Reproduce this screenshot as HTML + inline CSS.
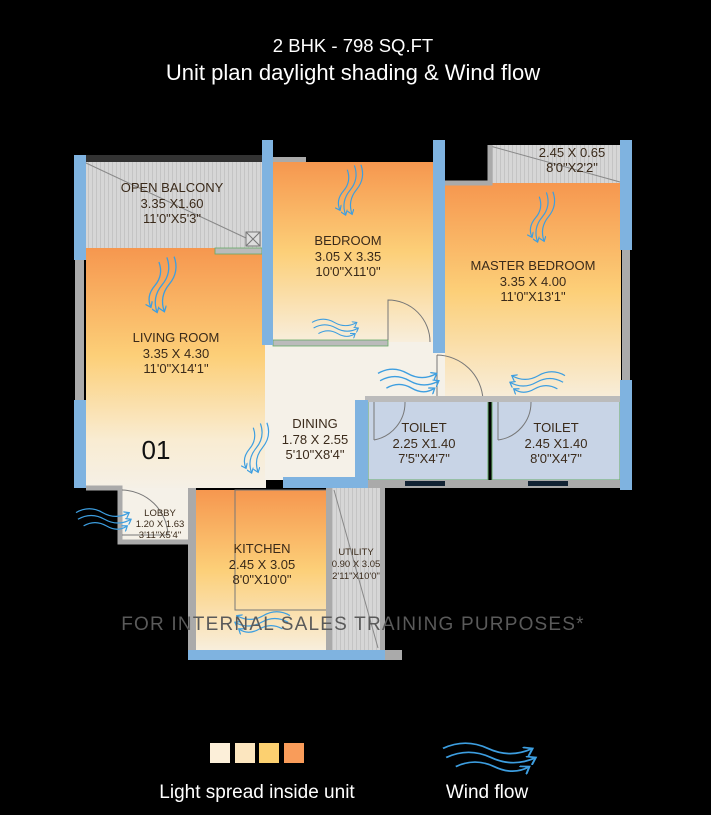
<!DOCTYPE html>
<html><head><meta charset="utf-8"><style>
html,body{margin:0;padding:0;background:#000;}
svg{display:block}
text{font-family:"Liberation Sans",sans-serif}
</style></head><body>
<svg width="711" height="815" viewBox="0 0 711 815" xmlns="http://www.w3.org/2000/svg">
<defs>
<linearGradient id="g1" x1="0" y1="0" x2="0" y2="1">
<stop offset="0" stop-color="#f6974f"/><stop offset="0.45" stop-color="#fccf78"/><stop offset="0.8" stop-color="#f9ecd2"/><stop offset="1" stop-color="#f5f0e6"/>
</linearGradient>
<linearGradient id="g2" x1="0" y1="0" x2="0" y2="1">
<stop offset="0" stop-color="#f6974f"/><stop offset="0.5" stop-color="#fccf78"/><stop offset="1" stop-color="#f8eedc"/>
</linearGradient>
<pattern id="st" width="4" height="10" patternUnits="userSpaceOnUse"><rect width="4" height="10" fill="#d6d6d6"/><rect width="1" height="10" fill="#c4c4c4"/></pattern>
<marker id="ah" markerWidth="6" markerHeight="6" refX="4" refY="3" orient="auto"><path d="M0,0 L4,3 L0,6" fill="none" stroke="#3d9ee0" stroke-width="1"/></marker>
<g id="w" fill="none" stroke="#3d9ee0" stroke-width="1.3" marker-end="url(#ah)">
<path d="M0,8 q14,-8 28,0 t28,0"/><path d="M2,15 q14,-8 28,0 t28,0"/><path d="M8,22 q12,-7 24,0 t22,0"/>
</g>
</defs>
<rect width="711" height="815" fill="#000"/>
<text x="353" y="52" fill="#fff" font-size="18.5" text-anchor="middle">2 BHK - 798 SQ.FT</text>
<text x="353" y="80" fill="#fff" font-size="22" text-anchor="middle">Unit plan daylight shading &amp; Wind flow</text>

<!-- passage -->
<rect x="265" y="340" width="180" height="62" fill="#f5f1e8"/>
<!-- balcony -->
<rect x="86" y="162" width="176" height="86" fill="url(#st)"/>
<line x1="86" y1="163" x2="246" y2="238" stroke="#888" stroke-width="1"/>
<rect x="246" y="232" width="14" height="14" fill="#ddd" stroke="#777"/>
<path d="M246,232 L260,246 M260,232 L246,246" stroke="#777"/>
<rect x="86" y="155" width="176" height="7" fill="#333"/>
<rect x="262" y="157" width="44" height="6" fill="#aaa"/>
<!-- living -->
<rect x="86" y="248" width="180" height="240" fill="url(#g1)"/>
<rect x="215" y="248" width="47" height="6" fill="#bbb" stroke="#6a6" stroke-width="0.8"/>
<!-- dining -->
<rect x="265" y="345" width="105" height="135" fill="#f5f1e8"/>
<!-- bedroom -->
<rect x="273" y="162" width="160" height="180" fill="url(#g2)"/>
<rect x="273" y="340" width="115" height="6" fill="#bbb" stroke="#6a6" stroke-width="0.8"/>
<path d="M388,340 L388,300 A42,42 0 0 1 430,342" fill="none" stroke="#777"/>
<!-- master -->
<rect x="445" y="183" width="176" height="217" fill="url(#g2)"/>
<rect x="490" y="145" width="131" height="38" fill="url(#st)"/>
<line x1="490" y1="146" x2="620" y2="182" stroke="#888"/>
<rect x="445" y="145" width="45" height="38" fill="#000"/>
<path d="M445,183 H490 V145" fill="none" stroke="#aaa" stroke-width="5"/>
<path d="M437,355 L437,400 M437,355 A47,47 0 0 1 483,400" fill="none" stroke="#777"/>
<rect x="622" y="250" width="8" height="130" fill="#aaa"/>
<!-- toilets -->
<rect x="368" y="400" width="120" height="80" fill="#c8d4e6" stroke="#6a6"/>
<rect x="492" y="400" width="128" height="80" fill="#c8d4e6" stroke="#6a6"/>
<rect x="365" y="396" width="255" height="6" fill="#bbb"/>
<rect x="365" y="480" width="262" height="8" fill="#aaa"/>
<rect x="405" y="481" width="40" height="5" fill="#123"/><rect x="528" y="481" width="40" height="5" fill="#123"/>
<path d="M374,402 V440 M374,440 A38,38 0 0 0 405,402" fill="none" stroke="#777"/>
<path d="M498,402 V440 M498,440 A38,38 0 0 0 531,402" fill="none" stroke="#777"/>
<rect x="355" y="400" width="13" height="80" fill="#7fb3e0"/>
<rect x="283" y="477" width="85" height="11" fill="#7fb3e0"/>
<!-- lobby -->
<rect x="120" y="488" width="70" height="54" fill="#f5f1e8"/>
<path d="M86,488 H120 V542 H190" fill="none" stroke="#aaa" stroke-width="5"/>
<path d="M122,490 A47,47 0 0 1 168,535 L122,535" fill="none" stroke="#777"/>
<!-- kitchen -->
<rect x="195" y="490" width="135" height="160" fill="url(#g2)"/>
<rect x="188" y="488" width="8" height="165" fill="#aaa"/>
<rect x="235" y="490" width="95" height="120" fill="none" stroke="#777"/>
<rect x="332" y="488" width="48" height="162" fill="url(#st)"/>
<line x1="334" y1="490" x2="378" y2="648" stroke="#888"/>
<rect x="326" y="488" width="6" height="162" fill="#aaa"/>
<rect x="380" y="488" width="5" height="162" fill="#aaa"/>
<rect x="188" y="650" width="197" height="10" fill="#7fb3e0"/>
<rect x="385" y="650" width="17" height="10" fill="#aaa"/>
<!-- walls blue -->
<rect x="74" y="155" width="12" height="105" fill="#7fb3e0"/>
<rect x="75" y="260" width="9" height="140" fill="#aaa"/>
<rect x="74" y="400" width="12" height="88" fill="#7fb3e0"/>
<rect x="262" y="140" width="11" height="205" fill="#7fb3e0"/>
<rect x="433" y="140" width="12" height="213" fill="#7fb3e0"/>
<rect x="620" y="140" width="12" height="110" fill="#7fb3e0"/>
<rect x="620" y="380" width="12" height="110" fill="#7fb3e0"/>
<!-- wind -->
<use href="#w" transform="translate(182,258) rotate(100) scale(1,1)"/>
<use href="#w" transform="translate(368,166) rotate(100) scale(0.9)"/>
<use href="#w" transform="translate(560,193) rotate(100) scale(0.9)"/>
<use href="#w" transform="translate(274,424) rotate(100) scale(0.9)"/>
<use href="#w" transform="translate(312,316) scale(0.8)"/>
<use href="#w" transform="translate(378,365) scale(1.05)"/>
<use href="#w" transform="translate(565,368) scale(-0.95,0.95)"/>
<use href="#w" transform="translate(76,505) scale(0.95)"/>
<use href="#w" transform="translate(290,608) scale(-0.95,0.95)"/>
<use href="#w" transform="translate(443,738) scale(1.6,1.3)"/>
<!-- labels -->
<g fill="#3a2a1a" font-size="13" text-anchor="middle">
<text x="172" y="192">OPEN BALCONY</text><text x="172" y="208">3.35 X1.60</text><text x="172" y="223">11'0"X5'3"</text>
<text x="348" y="245">BEDROOM</text><text x="348" y="261">3.05 X 3.35</text><text x="348" y="276">10'0"X11'0"</text>
<text x="533" y="270">MASTER BEDROOM</text><text x="533" y="286">3.35 X 4.00</text><text x="533" y="301">11'0"X13'1"</text>
<text x="176" y="342">LIVING ROOM</text><text x="176" y="358">3.35 X 4.30</text><text x="176" y="373">11'0"X14'1"</text>
<text x="315" y="428">DINING</text><text x="315" y="444">1.78 X 2.55</text><text x="315" y="459">5'10"X8'4"</text>
<text x="424" y="432">TOILET</text><text x="424" y="448">2.25 X1.40</text><text x="424" y="463">7'5"X4'7"</text>
<text x="556" y="432">TOILET</text><text x="556" y="448">2.45 X1.40</text><text x="556" y="463">8'0"X4'7"</text>
<text x="262" y="553">KITCHEN</text><text x="262" y="569">2.45 X 3.05</text><text x="262" y="584">8'0"X10'0"</text>
<text x="572" y="157">2.45 X 0.65</text><text x="572" y="172">8'0"X2'2"</text>
</g>
<g fill="#3a2a1a" font-size="9.5" text-anchor="middle">
<text x="160" y="516">LOBBY</text><text x="160" y="527">1.20 X 1.63</text><text x="160" y="538">3'11"X5'4"</text>
<text x="356" y="555">UTILITY</text><text x="356" y="567">0.90 X 3.05</text><text x="356" y="579">2'11"X10'0"</text>
</g>
<text x="156" y="459" font-size="26" fill="#111" text-anchor="middle">01</text>
<text x="353" y="630" font-size="19" fill="#5a5a5a" text-anchor="middle" letter-spacing="1.2">FOR INTERNAL SALES TRAINING PURPOSES*</text>
<!-- legend -->
<rect x="210" y="743" width="20" height="20" fill="#fcefd9"/>
<rect x="235" y="743" width="20" height="20" fill="#fce6bf"/>
<rect x="259" y="743" width="20" height="20" fill="#fcd070"/>
<rect x="284" y="743" width="20" height="20" fill="#f99c5a"/>
<text x="257" y="798" fill="#fff" font-size="19" text-anchor="middle">Light spread inside unit</text>
<text x="487" y="798" fill="#fff" font-size="19" text-anchor="middle">Wind flow</text>
</svg>
</body></html>
